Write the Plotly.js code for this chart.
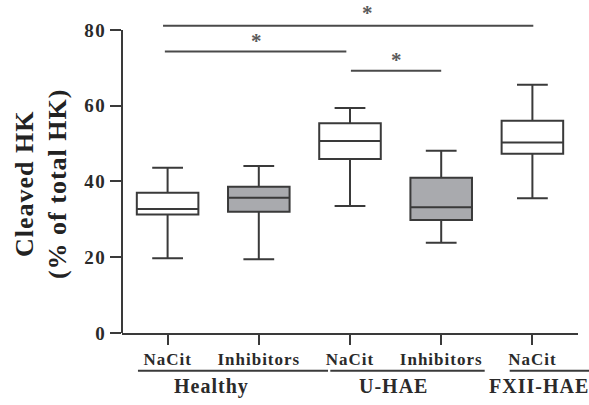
<!DOCTYPE html>
<html>
<head>
<meta charset="utf-8">
<script src="https://cdn.plot.ly/plotly-3.0.1.min.js"></script>
<style>
  html, body { margin: 0; padding: 0; background: #fff; }
  #chart { width: 589px; height: 405px; }
  .xtick text { letter-spacing: 1px; }
  .ytick text { letter-spacing: 1.5px; }
  .annotation-text { letter-spacing: 1px; }
</style>
</head>
<body>
<div id="chart"></div>
<script>
// ---- data ----
const positions = [0, 1, 2, 3, 4];
const categories = ['NaCit', 'Inhibitors', 'NaCit', 'Inhibitors', 'NaCit'];
const groups = ['Healthy', 'U-HAE', 'FXII-HAE'];
const groupCenters = [0.48, 2.48, 4.07];
const lowerWhisker = [19.7, 19.5, 33.5, 23.8, 35.6];
const q1Values = [31.3, 32.0, 45.9, 29.8, 47.3];
const medianValues = [32.7, 35.7, 50.7, 33.2, 50.3];
const q3Values = [37.0, 38.6, 55.4, 41.0, 56.0];
const upperWhisker = [43.6, 44.1, 59.4, 48.1, 65.5];
const isInhibitor = [false, true, false, true, false];
const yTicks = [0, 20, 40, 60, 80];
// significance brackets: [from, to, level], star position
const sigFrom = [-0.05, -0.03, 2.01];
const sigTo = [4.01, 1.96, 3.0];
const sigLevel = [81.1, 74.3, 69.2];
const sigStarX = [2.2, 0.98, 2.52];
const sigStarY = [84.4, 77.1, 72.0];

const lineCol = '#3a3a3a';
const font = 'Liberation Serif, Times New Roman, serif';

const traces = positions.map((p, i) => ({
  type: 'box',
  x: [p],
  q1: [q1Values[i]],
  median: [medianValues[i]],
  q3: [q3Values[i]],
  lowerfence: [lowerWhisker[i]],
  upperfence: [upperWhisker[i]],
  width: 0.675,
  whiskerwidth: 0.5,
  fillcolor: isInhibitor[i] ? '#a9aaae' : '#ffffff',
  line: { color: lineCol, width: 2 },
  boxpoints: false,
  hoverinfo: 'skip',
  showlegend: false
}));

const shapes = [];
// y axis line (0 to 80)
shapes.push({ type: 'line', xref: 'paper', yref: 'y', x0: 0, x1: 0, y0: 0, y1: 80,
  line: { color: lineCol, width: 2 } });
// significance lines
for (let i = 0; i < sigLevel.length; i++) {
  shapes.push({ type: 'line', xref: 'x', yref: 'y', x0: sigFrom[i], x1: sigTo[i],
    y0: sigLevel[i], y1: sigLevel[i], line: { color: '#4a4a4a', width: 2 } });
}
// group underlines
const underFrom = [0.035, 0.4568, 0.8502];
const underTo = [0.4518, 0.7954, 1.0526];
for (let i = 0; i < underFrom.length; i++) {
  shapes.push({ type: 'line', xref: 'paper', yref: 'paper', x0: underFrom[i], x1: underTo[i],
    y0: -0.117, y1: -0.117, line: { color: lineCol, width: 2 } });
}

const annotations = [];
for (let i = 0; i < sigStarX.length; i++) {
  annotations.push({ x: sigStarX[i], y: sigStarY[i], xref: 'x', yref: 'y', text: '<b>*</b>',
    showarrow: false, font: { family: font, size: 21, color: '#5a5a5a' }, yanchor: 'middle' });
}
for (let i = 0; i < groups.length; i++) {
  annotations.push({ x: groupCenters[i], y: -0.124, xref: 'x', yref: 'paper', text: '<b>' + groups[i] + '</b>',
    showarrow: false, yanchor: 'top', font: { family: font, size: 20, color: '#2a2a2a' } });
}
annotations.push({ x: -0.178, y: 0.462, xref: 'paper', yref: 'paper', textangle: -90,
  text: '<b>Cleaved HK</b><br><b>(% of total HK)</b>', showarrow: false,
  xanchor: 'center', yanchor: 'middle', font: { family: font, size: 26, color: '#222' } });

const layout = {
  width: 589, height: 405,
  margin: { l: 122, r: 11, t: 11, b: 72 },
  paper_bgcolor: '#fff', plot_bgcolor: '#fff',
  showlegend: false,
  xaxis: {
    range: [-0.5, 4.5],
    tickmode: 'array', tickvals: positions, ticktext: categories.map(c => '<b>' + c + '</b>'),
    ticks: 'outside', ticklen: 10, tickwidth: 2, tickcolor: lineCol,
    showline: true, linecolor: lineCol, linewidth: 2,
    showgrid: false, zeroline: false,
    tickfont: { family: font, size: 17, color: '#2a2a2a' }
  },
  yaxis: {
    range: [0, 85],
    tickmode: 'array', tickvals: yTicks, ticktext: yTicks.map(v => '<b>' + v + '</b>'),
    ticks: 'outside', ticklen: 11, tickwidth: 2, tickcolor: lineCol,
    showline: false, showgrid: false, zeroline: false,
    tickfont: { family: font, size: 19, color: '#2a2a2a' }
  },
  shapes: shapes,
  annotations: annotations
};

Plotly.newPlot('chart', traces, layout, { staticPlot: true, displayModeBar: false });
</script>
</body>
</html>
